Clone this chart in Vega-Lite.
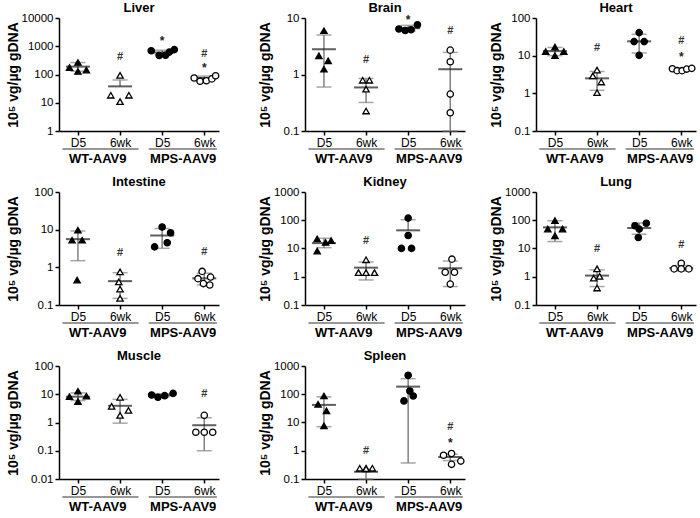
{
"$schema": "https://vega.github.io/schema/vega-lite/v6.json",
"background": "white",
"padding": {"left": 6, "top": 2, "right": 2, "bottom": 0},
"config": {
  "font": "Liberation Sans",
  "view": {"stroke": null},
  "axis": {"grid": false, "domainColor": "black", "domainWidth": 1.5, "tickColor": "black", "tickWidth": 1.5, "tickSize": 4, "labelColor": "black", "titleColor": "black", "titleFontSize": 14, "titleFontWeight": "bold", "labelFlush": false},
  "axisY": {"labelFontSize": 11.5, "labelPadding": 2, "titlePadding": 1},
  "axisX": {"labelFontSize": 12, "labelPadding": 2, "tickSize": 4},
  "title": {"fontSize": 13, "fontWeight": "bold", "offset": -3, "color": "black"}
},
"datasets": {
  "stats": [
    {"organ":"Liver","x":1,"v":190,"hi":265,"lo":130},
    {"organ":"Liver","x":2,"v":38,"hi":64,"lo":null},
    {"organ":"Liver","x":3,"v":600,"hi":720,"lo":500},
    {"organ":"Liver","x":4,"v":75,"hi":88,"lo":62},
    {"organ":"Brain","x":1,"v":2.8,"hi":5.0,"lo":0.6},
    {"organ":"Brain","x":2,"v":0.59,"hi":0.85,"lo":0.32},
    {"organ":"Brain","x":3,"v":6.6,"hi":7.4,"lo":5.9},
    {"organ":"Brain","x":4,"v":1.24,"hi":2.46,"lo":0.1},
    {"organ":"Heart","x":1,"v":13.2,"hi":16.5,"lo":10},
    {"organ":"Heart","x":2,"v":2.5,"hi":3.8,"lo":1.2},
    {"organ":"Heart","x":3,"v":24,"hi":37,"lo":11.8},
    {"organ":"Heart","x":4,"v":4.3,"hi":4.7,"lo":3.9},
    {"organ":"Intestine","x":1,"v":5.6,"hi":9.2,"lo":1.5},
    {"organ":"Intestine","x":2,"v":0.43,"hi":0.72,"lo":0.15},
    {"organ":"Intestine","x":3,"v":7.0,"hi":10.7,"lo":3.2},
    {"organ":"Intestine","x":4,"v":0.51,"hi":0.7,"lo":0.34},
    {"organ":"Kidney","x":1,"v":15.5,"hi":23,"lo":10.7},
    {"organ":"Kidney","x":2,"v":2.1,"hi":3.3,"lo":0.77},
    {"organ":"Kidney","x":3,"v":44,"hi":104,"lo":null},
    {"organ":"Kidney","x":4,"v":2.0,"hi":3.6,"lo":0.45},
    {"organ":"Lung","x":1,"v":56,"hi":96,"lo":17.6},
    {"organ":"Lung","x":2,"v":1.1,"hi":1.75,"lo":0.45},
    {"organ":"Lung","x":3,"v":53,"hi":80,"lo":32},
    {"organ":"Lung","x":4,"v":2.0,"hi":2.5,"lo":1.6},
    {"organ":"Muscle","x":1,"v":8.2,"hi":11.2,"lo":6.0},
    {"organ":"Muscle","x":2,"v":3.9,"hi":6.6,"lo":0.95},
    {"organ":"Muscle","x":3,"v":9.2,"hi":10.5,"lo":8.0},
    {"organ":"Muscle","x":4,"v":0.8,"hi":1.48,"lo":0.1},
    {"organ":"Spleen","x":1,"v":42,"hi":81,"lo":7.1},
    {"organ":"Spleen","x":2,"v":0.18,"hi":0.22,"lo":0.1},
    {"organ":"Spleen","x":3,"v":186,"hi":355,"lo":0.37},
    {"organ":"Spleen","x":4,"v":0.6,"hi":0.75,"lo":0.45}
  ],
  "pts": [
    {"organ":"Liver","c":"WT","t":"D5","x":0.8,"v":177},
    {"organ":"Liver","c":"WT","t":"D5","x":1.0,"v":267},
    {"organ":"Liver","c":"WT","t":"D5","x":1.2,"v":143},
    {"organ":"Liver","c":"WT","t":"D5","x":1.0,"v":128},
    {"organ":"Liver","c":"WT","t":"6wk","x":2.0,"v":93},
    {"organ":"Liver","c":"WT","t":"6wk","x":1.78,"v":18.4},
    {"organ":"Liver","c":"WT","t":"6wk","x":2.21,"v":18.4},
    {"organ":"Liver","c":"WT","t":"6wk","x":2.0,"v":11},
    {"organ":"Liver","c":"MPS","t":"D5","x":2.74,"v":690},
    {"organ":"Liver","c":"MPS","t":"D5","x":2.93,"v":470},
    {"organ":"Liver","c":"MPS","t":"D5","x":3.08,"v":480},
    {"organ":"Liver","c":"MPS","t":"D5","x":3.17,"v":620},
    {"organ":"Liver","c":"MPS","t":"D5","x":3.29,"v":760},
    {"organ":"Liver","c":"MPS","t":"6wk","x":3.76,"v":75},
    {"organ":"Liver","c":"MPS","t":"6wk","x":3.9,"v":58},
    {"organ":"Liver","c":"MPS","t":"6wk","x":4.05,"v":60},
    {"organ":"Liver","c":"MPS","t":"6wk","x":4.18,"v":70},
    {"organ":"Liver","c":"MPS","t":"6wk","x":4.27,"v":90},
    {"organ":"Brain","c":"WT","t":"D5","x":1.0,"v":5.96},
    {"organ":"Brain","c":"WT","t":"D5","x":0.88,"v":2.14},
    {"organ":"Brain","c":"WT","t":"D5","x":1.1,"v":1.75},
    {"organ":"Brain","c":"WT","t":"D5","x":1.0,"v":1.24},
    {"organ":"Brain","c":"WT","t":"6wk","x":1.92,"v":0.79},
    {"organ":"Brain","c":"WT","t":"6wk","x":2.08,"v":0.79},
    {"organ":"Brain","c":"WT","t":"6wk","x":2.0,"v":0.55},
    {"organ":"Brain","c":"WT","t":"6wk","x":2.0,"v":0.226},
    {"organ":"Brain","c":"MPS","t":"D5","x":2.78,"v":6.4},
    {"organ":"Brain","c":"MPS","t":"D5","x":2.93,"v":6.0},
    {"organ":"Brain","c":"MPS","t":"D5","x":3.07,"v":6.2},
    {"organ":"Brain","c":"MPS","t":"D5","x":3.22,"v":7.6},
    {"organ":"Brain","c":"MPS","t":"6wk","x":4.0,"v":2.7},
    {"organ":"Brain","c":"MPS","t":"6wk","x":4.0,"v":1.68},
    {"organ":"Brain","c":"MPS","t":"6wk","x":4.0,"v":0.45},
    {"organ":"Brain","c":"MPS","t":"6wk","x":4.0,"v":0.21},
    {"organ":"Heart","c":"WT","t":"D5","x":0.78,"v":12.9},
    {"organ":"Heart","c":"WT","t":"D5","x":1.0,"v":16.9},
    {"organ":"Heart","c":"WT","t":"D5","x":1.21,"v":12.9},
    {"organ":"Heart","c":"WT","t":"D5","x":1.0,"v":10},
    {"organ":"Heart","c":"WT","t":"6wk","x":2.0,"v":4.15},
    {"organ":"Heart","c":"WT","t":"6wk","x":1.9,"v":2.9},
    {"organ":"Heart","c":"WT","t":"6wk","x":2.1,"v":2.0},
    {"organ":"Heart","c":"WT","t":"6wk","x":2.0,"v":1.04},
    {"organ":"Heart","c":"MPS","t":"D5","x":3.0,"v":41},
    {"organ":"Heart","c":"MPS","t":"D5","x":2.88,"v":23.6},
    {"organ":"Heart","c":"MPS","t":"D5","x":3.12,"v":23.6},
    {"organ":"Heart","c":"MPS","t":"D5","x":3.0,"v":10.2},
    {"organ":"Heart","c":"MPS","t":"6wk","x":3.79,"v":4.5},
    {"organ":"Heart","c":"MPS","t":"6wk","x":3.9,"v":4.0},
    {"organ":"Heart","c":"MPS","t":"6wk","x":4.02,"v":4.0},
    {"organ":"Heart","c":"MPS","t":"6wk","x":4.13,"v":4.4},
    {"organ":"Heart","c":"MPS","t":"6wk","x":4.25,"v":4.6},
    {"organ":"Intestine","c":"WT","t":"D5","x":1.0,"v":9.7},
    {"organ":"Intestine","c":"WT","t":"D5","x":0.86,"v":5.25},
    {"organ":"Intestine","c":"WT","t":"D5","x":1.1,"v":5.25},
    {"organ":"Intestine","c":"WT","t":"D5","x":0.98,"v":0.46},
    {"organ":"Intestine","c":"WT","t":"6wk","x":2.0,"v":0.76},
    {"organ":"Intestine","c":"WT","t":"6wk","x":1.97,"v":0.41},
    {"organ":"Intestine","c":"WT","t":"6wk","x":2.0,"v":0.265},
    {"organ":"Intestine","c":"WT","t":"6wk","x":2.0,"v":0.15},
    {"organ":"Intestine","c":"MPS","t":"D5","x":3.0,"v":11.8},
    {"organ":"Intestine","c":"MPS","t":"D5","x":3.2,"v":8.3},
    {"organ":"Intestine","c":"MPS","t":"D5","x":3.12,"v":4.5},
    {"organ":"Intestine","c":"MPS","t":"D5","x":2.82,"v":3.5},
    {"organ":"Intestine","c":"MPS","t":"6wk","x":3.95,"v":0.78},
    {"organ":"Intestine","c":"MPS","t":"6wk","x":4.15,"v":0.55},
    {"organ":"Intestine","c":"MPS","t":"6wk","x":3.85,"v":0.5},
    {"organ":"Intestine","c":"MPS","t":"6wk","x":3.98,"v":0.37},
    {"organ":"Intestine","c":"MPS","t":"6wk","x":4.13,"v":0.34},
    {"organ":"Kidney","c":"WT","t":"D5","x":0.84,"v":21.8},
    {"organ":"Kidney","c":"WT","t":"D5","x":1.04,"v":16.4},
    {"organ":"Kidney","c":"WT","t":"D5","x":1.17,"v":19},
    {"organ":"Kidney","c":"WT","t":"D5","x":0.84,"v":8.1},
    {"organ":"Kidney","c":"WT","t":"6wk","x":2.0,"v":4.0},
    {"organ":"Kidney","c":"WT","t":"6wk","x":1.82,"v":1.4},
    {"organ":"Kidney","c":"WT","t":"6wk","x":2.0,"v":1.4},
    {"organ":"Kidney","c":"WT","t":"6wk","x":2.2,"v":1.4},
    {"organ":"Kidney","c":"MPS","t":"D5","x":3.0,"v":119},
    {"organ":"Kidney","c":"MPS","t":"D5","x":3.0,"v":29},
    {"organ":"Kidney","c":"MPS","t":"D5","x":2.84,"v":10.1},
    {"organ":"Kidney","c":"MPS","t":"D5","x":3.08,"v":10.1},
    {"organ":"Kidney","c":"MPS","t":"6wk","x":4.04,"v":4.2},
    {"organ":"Kidney","c":"MPS","t":"6wk","x":3.88,"v":1.45},
    {"organ":"Kidney","c":"MPS","t":"6wk","x":4.1,"v":1.45},
    {"organ":"Kidney","c":"MPS","t":"6wk","x":4.0,"v":0.55},
    {"organ":"Lung","c":"WT","t":"D5","x":1.0,"v":96.7},
    {"organ":"Lung","c":"WT","t":"D5","x":0.83,"v":48.6},
    {"organ":"Lung","c":"WT","t":"D5","x":1.18,"v":48.6},
    {"organ":"Lung","c":"WT","t":"D5","x":1.0,"v":28},
    {"organ":"Lung","c":"WT","t":"6wk","x":2.0,"v":1.9},
    {"organ":"Lung","c":"WT","t":"6wk","x":2.06,"v":1.03},
    {"organ":"Lung","c":"WT","t":"6wk","x":1.92,"v":0.9},
    {"organ":"Lung","c":"WT","t":"6wk","x":2.0,"v":0.4},
    {"organ":"Lung","c":"MPS","t":"D5","x":2.9,"v":64},
    {"organ":"Lung","c":"MPS","t":"D5","x":3.17,"v":78},
    {"organ":"Lung","c":"MPS","t":"D5","x":3.0,"v":48.6},
    {"organ":"Lung","c":"MPS","t":"D5","x":2.98,"v":24.4},
    {"organ":"Lung","c":"MPS","t":"6wk","x":4.0,"v":3.0},
    {"organ":"Lung","c":"MPS","t":"6wk","x":3.83,"v":1.9},
    {"organ":"Lung","c":"MPS","t":"6wk","x":4.0,"v":1.9},
    {"organ":"Lung","c":"MPS","t":"6wk","x":4.18,"v":1.9},
    {"organ":"Muscle","c":"WT","t":"D5","x":1.0,"v":12.8},
    {"organ":"Muscle","c":"WT","t":"D5","x":0.8,"v":8.2},
    {"organ":"Muscle","c":"WT","t":"D5","x":1.2,"v":8.6},
    {"organ":"Muscle","c":"WT","t":"D5","x":1.0,"v":5.5},
    {"organ":"Muscle","c":"WT","t":"6wk","x":2.0,"v":7.8},
    {"organ":"Muscle","c":"WT","t":"6wk","x":1.8,"v":3.73},
    {"organ":"Muscle","c":"WT","t":"6wk","x":2.2,"v":2.7},
    {"organ":"Muscle","c":"WT","t":"6wk","x":2.0,"v":1.79},
    {"organ":"Muscle","c":"MPS","t":"D5","x":2.75,"v":9.4},
    {"organ":"Muscle","c":"MPS","t":"D5","x":2.9,"v":7.8},
    {"organ":"Muscle","c":"MPS","t":"D5","x":3.06,"v":8.9},
    {"organ":"Muscle","c":"MPS","t":"D5","x":3.26,"v":10.7},
    {"organ":"Muscle","c":"MPS","t":"6wk","x":4.0,"v":1.79},
    {"organ":"Muscle","c":"MPS","t":"6wk","x":3.8,"v":0.45},
    {"organ":"Muscle","c":"MPS","t":"6wk","x":4.0,"v":0.45},
    {"organ":"Muscle","c":"MPS","t":"6wk","x":4.2,"v":0.45},
    {"organ":"Spleen","c":"WT","t":"D5","x":1.0,"v":87},
    {"organ":"Spleen","c":"WT","t":"D5","x":0.86,"v":44},
    {"organ":"Spleen","c":"WT","t":"D5","x":1.06,"v":26},
    {"organ":"Spleen","c":"WT","t":"D5","x":1.0,"v":7.6},
    {"organ":"Spleen","c":"WT","t":"6wk","x":1.85,"v":0.24},
    {"organ":"Spleen","c":"WT","t":"6wk","x":2.0,"v":0.24},
    {"organ":"Spleen","c":"WT","t":"6wk","x":2.15,"v":0.24},
    {"organ":"Spleen","c":"WT","t":"6wk","x":2.0,"v":0.23},
    {"organ":"Spleen","c":"MPS","t":"D5","x":3.0,"v":468},
    {"organ":"Spleen","c":"MPS","t":"D5","x":3.04,"v":130},
    {"organ":"Spleen","c":"MPS","t":"D5","x":3.12,"v":87},
    {"organ":"Spleen","c":"MPS","t":"D5","x":2.9,"v":58},
    {"organ":"Spleen","c":"MPS","t":"6wk","x":3.84,"v":0.69},
    {"organ":"Spleen","c":"MPS","t":"6wk","x":4.03,"v":0.8},
    {"organ":"Spleen","c":"MPS","t":"6wk","x":4.03,"v":0.33},
    {"organ":"Spleen","c":"MPS","t":"6wk","x":4.25,"v":0.43}
  ],
  "ann": [
    {"organ":"Liver","x":2,"v":417,"label":"#"},
    {"organ":"Liver","x":3,"v":1950,"label":"*"},
    {"organ":"Liver","x":4,"v":516,"label":"#"},
    {"organ":"Liver","x":4,"v":218,"label":"*"},
    {"organ":"Brain","x":2,"v":1.8,"label":"#"},
    {"organ":"Brain","x":3,"v":10.5,"label":"*"},
    {"organ":"Brain","x":4,"v":5.8,"label":"#"},
    {"organ":"Heart","x":2,"v":15.5,"label":"#"},
    {"organ":"Heart","x":4,"v":25,"label":"#"},
    {"organ":"Heart","x":4,"v":11,"label":"*"},
    {"organ":"Intestine","x":2,"v":2.33,"label":"#"},
    {"organ":"Intestine","x":4,"v":2.58,"label":"#"},
    {"organ":"Kidney","x":2,"v":17.9,"label":"#"},
    {"organ":"Lung","x":2,"v":9.3,"label":"#"},
    {"organ":"Lung","x":4,"v":13.3,"label":"#"},
    {"organ":"Muscle","x":4,"v":10.1,"label":"#"},
    {"organ":"Spleen","x":2,"v":1.0,"label":"#"},
    {"organ":"Spleen","x":4,"v":6.9,"label":"#"},
    {"organ":"Spleen","x":4,"v":2.5,"label":"*"}
  ],
  "grp": [
    {"organ":"Liver","name":"WT-AAV9","gx":0.63,"gx2":2.44,"gc":1.47,"v":1},
    {"organ":"Liver","name":"MPS-AAV9","gx":2.68,"gx2":4.3,"gc":3.5,"v":1},
    {"organ":"Brain","name":"WT-AAV9","gx":0.63,"gx2":2.44,"gc":1.47,"v":0.1},
    {"organ":"Brain","name":"MPS-AAV9","gx":2.68,"gx2":4.3,"gc":3.5,"v":0.1},
    {"organ":"Heart","name":"WT-AAV9","gx":0.63,"gx2":2.44,"gc":1.47,"v":0.1},
    {"organ":"Heart","name":"MPS-AAV9","gx":2.68,"gx2":4.3,"gc":3.5,"v":0.1},
    {"organ":"Intestine","name":"WT-AAV9","gx":0.63,"gx2":2.44,"gc":1.47,"v":0.1},
    {"organ":"Intestine","name":"MPS-AAV9","gx":2.68,"gx2":4.3,"gc":3.5,"v":0.1},
    {"organ":"Kidney","name":"WT-AAV9","gx":0.63,"gx2":2.44,"gc":1.47,"v":0.1},
    {"organ":"Kidney","name":"MPS-AAV9","gx":2.68,"gx2":4.3,"gc":3.5,"v":0.1},
    {"organ":"Lung","name":"WT-AAV9","gx":0.63,"gx2":2.44,"gc":1.47,"v":0.1},
    {"organ":"Lung","name":"MPS-AAV9","gx":2.68,"gx2":4.3,"gc":3.5,"v":0.1},
    {"organ":"Muscle","name":"WT-AAV9","gx":0.63,"gx2":2.44,"gc":1.47,"v":0.01},
    {"organ":"Muscle","name":"MPS-AAV9","gx":2.68,"gx2":4.3,"gc":3.5,"v":0.01},
    {"organ":"Spleen","name":"WT-AAV9","gx":0.63,"gx2":2.44,"gc":1.47,"v":0.1},
    {"organ":"Spleen","name":"MPS-AAV9","gx":2.68,"gx2":4.3,"gc":3.5,"v":0.1}
  ]
},
"spacing": 36,
"hconcat": [
 {"vconcat": [
  {"title":"Liver","width":160,"height":113,
   "encoding":{"x":{"field":"x","type":"quantitative","scale":{"domain":[0.55,4.35],"nice":false,"zero":false},"axis":{"values":[1,2,3,4],"labelExpr":"datum.value == 1 || datum.value == 3 ? 'D5' : '6wk'","title":null}},
     "y":{"field":"v","type":"quantitative","scale":{"type":"log","domain":[1,10000],"nice":false},"axis":{"values":[1,10,100,1000,10000],"format":"~g","title":"10⁵ vg/µg gDNA","minExtent":38}}},
   "layer":[
    {"data":{"name":"stats"},"transform":[{"filter":"datum.organ == 'Liver'"}],"mark":{"type":"rule","color":"#808080","strokeWidth":1.5},"encoding":{"y2":{"field":"hi"}}},
    {"data":{"name":"stats"},"transform":[{"filter":"datum.organ == 'Liver' && datum.lo != null"}],"mark":{"type":"rule","color":"#808080","strokeWidth":1.5},"encoding":{"y2":{"field":"lo"}}},
    {"data":{"name":"stats"},"transform":[{"filter":"datum.organ == 'Liver'"}],"mark":{"type":"tick","orient":"horizontal","size":15,"thickness":1.5,"color":"#808080"},"encoding":{"y":{"field":"hi","type":"quantitative"}}},
    {"data":{"name":"stats"},"transform":[{"filter":"datum.organ == 'Liver' && datum.lo != null"}],"mark":{"type":"tick","orient":"horizontal","size":15,"thickness":1.5,"color":"#808080"},"encoding":{"y":{"field":"lo","type":"quantitative"}}},
    {"data":{"name":"stats"},"transform":[{"filter":"datum.organ == 'Liver'"}],"mark":{"type":"tick","orient":"horizontal","size":24,"thickness":2,"color":"#1a1a1a"}},
    {"data":{"name":"pts"},"transform":[{"filter":"datum.organ == 'Liver'"}],"mark":{"type":"point","filled":true,"size":40,"stroke":"black","strokeWidth":1.3,"opacity":1},"encoding":{"shape":{"field":"c","type":"nominal","scale":{"domain":["WT","MPS"],"range":["triangle-up","circle"]},"legend":null},"fill":{"field":"t","type":"nominal","scale":{"domain":["D5","6wk"],"range":["black","white"]},"legend":null}}},
    {"data":{"name":"ann"},"transform":[{"filter":"datum.organ == 'Liver' && datum.label == '#'"}],"mark":{"type":"text","fontSize":11,"fontWeight":"bold","color":"#333333","baseline":"middle"},"encoding":{"text":{"field":"label"}}},
    {"data":{"name":"ann"},"transform":[{"filter":"datum.organ == 'Liver' && datum.label == '*'"}],"mark":{"type":"text","fontSize":12,"fontWeight":"bold","color":"#222222","baseline":"middle","dy":3},"encoding":{"text":{"field":"label"}}},
    {"data":{"name":"grp"},"transform":[{"filter":"datum.organ == 'Liver'"}],"mark":{"type":"rule","color":"#333333","strokeWidth":1.2,"yOffset":18},"encoding":{"x":{"field":"gx"},"x2":{"field":"gx2"}}},
    {"data":{"name":"grp"},"transform":[{"filter":"datum.organ == 'Liver'"}],"mark":{"type":"text","fontSize":13,"fontWeight":"bold","dy":28,"baseline":"middle","color":"black"},"encoding":{"x":{"field":"gc"},"text":{"field":"name"}}}
   ]},
  {"title":"Intestine","width":160,"height":113,
   "encoding":{"x":{"field":"x","type":"quantitative","scale":{"domain":[0.55,4.35],"nice":false,"zero":false},"axis":{"values":[1,2,3,4],"labelExpr":"datum.value == 1 || datum.value == 3 ? 'D5' : '6wk'","title":null}},
     "y":{"field":"v","type":"quantitative","scale":{"type":"log","domain":[0.1,100],"nice":false},"axis":{"values":[0.1,1,10,100],"format":"~g","title":"10⁵ vg/µg gDNA","minExtent":38}}},
   "layer":[
    {"data":{"name":"stats"},"transform":[{"filter":"datum.organ == 'Intestine'"}],"mark":{"type":"rule","color":"#808080","strokeWidth":1.5},"encoding":{"y2":{"field":"hi"}}},
    {"data":{"name":"stats"},"transform":[{"filter":"datum.organ == 'Intestine' && datum.lo != null"}],"mark":{"type":"rule","color":"#808080","strokeWidth":1.5},"encoding":{"y2":{"field":"lo"}}},
    {"data":{"name":"stats"},"transform":[{"filter":"datum.organ == 'Intestine'"}],"mark":{"type":"tick","orient":"horizontal","size":15,"thickness":1.5,"color":"#808080"},"encoding":{"y":{"field":"hi","type":"quantitative"}}},
    {"data":{"name":"stats"},"transform":[{"filter":"datum.organ == 'Intestine' && datum.lo != null"}],"mark":{"type":"tick","orient":"horizontal","size":15,"thickness":1.5,"color":"#808080"},"encoding":{"y":{"field":"lo","type":"quantitative"}}},
    {"data":{"name":"stats"},"transform":[{"filter":"datum.organ == 'Intestine'"}],"mark":{"type":"tick","orient":"horizontal","size":24,"thickness":2,"color":"#1a1a1a"}},
    {"data":{"name":"pts"},"transform":[{"filter":"datum.organ == 'Intestine'"}],"mark":{"type":"point","filled":true,"size":40,"stroke":"black","strokeWidth":1.3,"opacity":1},"encoding":{"shape":{"field":"c","type":"nominal","scale":{"domain":["WT","MPS"],"range":["triangle-up","circle"]},"legend":null},"fill":{"field":"t","type":"nominal","scale":{"domain":["D5","6wk"],"range":["black","white"]},"legend":null}}},
    {"data":{"name":"ann"},"transform":[{"filter":"datum.organ == 'Intestine' && datum.label == '#'"}],"mark":{"type":"text","fontSize":11,"fontWeight":"bold","color":"#333333","baseline":"middle"},"encoding":{"text":{"field":"label"}}},
    {"data":{"name":"grp"},"transform":[{"filter":"datum.organ == 'Intestine'"}],"mark":{"type":"rule","color":"#333333","strokeWidth":1.2,"yOffset":18},"encoding":{"x":{"field":"gx"},"x2":{"field":"gx2"}}},
    {"data":{"name":"grp"},"transform":[{"filter":"datum.organ == 'Intestine'"}],"mark":{"type":"text","fontSize":13,"fontWeight":"bold","dy":28,"baseline":"middle","color":"black"},"encoding":{"x":{"field":"gc"},"text":{"field":"name"}}}
   ]},
  {"title":"Muscle","width":160,"height":113,
   "encoding":{"x":{"field":"x","type":"quantitative","scale":{"domain":[0.55,4.35],"nice":false,"zero":false},"axis":{"values":[1,2,3,4],"labelExpr":"datum.value == 1 || datum.value == 3 ? 'D5' : '6wk'","title":null}},
     "y":{"field":"v","type":"quantitative","scale":{"type":"log","domain":[0.01,100],"nice":false},"axis":{"values":[0.01,0.1,1,10,100],"format":"~g","title":"10⁵ vg/µg gDNA","minExtent":38}}},
   "layer":[
    {"data":{"name":"stats"},"transform":[{"filter":"datum.organ == 'Muscle'"}],"mark":{"type":"rule","color":"#808080","strokeWidth":1.5},"encoding":{"y2":{"field":"hi"}}},
    {"data":{"name":"stats"},"transform":[{"filter":"datum.organ == 'Muscle' && datum.lo != null"}],"mark":{"type":"rule","color":"#808080","strokeWidth":1.5},"encoding":{"y2":{"field":"lo"}}},
    {"data":{"name":"stats"},"transform":[{"filter":"datum.organ == 'Muscle'"}],"mark":{"type":"tick","orient":"horizontal","size":15,"thickness":1.5,"color":"#808080"},"encoding":{"y":{"field":"hi","type":"quantitative"}}},
    {"data":{"name":"stats"},"transform":[{"filter":"datum.organ == 'Muscle' && datum.lo != null"}],"mark":{"type":"tick","orient":"horizontal","size":15,"thickness":1.5,"color":"#808080"},"encoding":{"y":{"field":"lo","type":"quantitative"}}},
    {"data":{"name":"stats"},"transform":[{"filter":"datum.organ == 'Muscle'"}],"mark":{"type":"tick","orient":"horizontal","size":24,"thickness":2,"color":"#1a1a1a"}},
    {"data":{"name":"pts"},"transform":[{"filter":"datum.organ == 'Muscle'"}],"mark":{"type":"point","filled":true,"size":40,"stroke":"black","strokeWidth":1.3,"opacity":1},"encoding":{"shape":{"field":"c","type":"nominal","scale":{"domain":["WT","MPS"],"range":["triangle-up","circle"]},"legend":null},"fill":{"field":"t","type":"nominal","scale":{"domain":["D5","6wk"],"range":["black","white"]},"legend":null}}},
    {"data":{"name":"ann"},"transform":[{"filter":"datum.organ == 'Muscle' && datum.label == '#'"}],"mark":{"type":"text","fontSize":11,"fontWeight":"bold","color":"#333333","baseline":"middle"},"encoding":{"text":{"field":"label"}}},
    {"data":{"name":"grp"},"transform":[{"filter":"datum.organ == 'Muscle'"}],"mark":{"type":"rule","color":"#333333","strokeWidth":1.2,"yOffset":18},"encoding":{"x":{"field":"gx"},"x2":{"field":"gx2"}}},
    {"data":{"name":"grp"},"transform":[{"filter":"datum.organ == 'Muscle'"}],"mark":{"type":"text","fontSize":13,"fontWeight":"bold","dy":28,"baseline":"middle","color":"black"},"encoding":{"x":{"field":"gc"},"text":{"field":"name"}}}
   ]}
 ], "spacing": 10},
 {"hconcat": [
  {"vconcat": [
   {"title":"Brain","width":160,"height":113,
    "encoding":{"x":{"field":"x","type":"quantitative","scale":{"domain":[0.55,4.35],"nice":false,"zero":false},"axis":{"values":[1,2,3,4],"labelExpr":"datum.value == 1 || datum.value == 3 ? 'D5' : '6wk'","title":null}},
      "y":{"field":"v","type":"quantitative","scale":{"type":"log","domain":[0.1,10],"nice":false},"axis":{"values":[0.1,1,10],"format":"~g","title":"10⁵ vg/µg gDNA","minExtent":32}}},
    "layer":[
     {"data":{"name":"stats"},"transform":[{"filter":"datum.organ == 'Brain'"}],"mark":{"type":"rule","color":"#808080","strokeWidth":1.5},"encoding":{"y2":{"field":"hi"}}},
     {"data":{"name":"stats"},"transform":[{"filter":"datum.organ == 'Brain' && datum.lo != null"}],"mark":{"type":"rule","color":"#808080","strokeWidth":1.5},"encoding":{"y2":{"field":"lo"}}},
     {"data":{"name":"stats"},"transform":[{"filter":"datum.organ == 'Brain'"}],"mark":{"type":"tick","orient":"horizontal","size":15,"thickness":1.5,"color":"#808080"},"encoding":{"y":{"field":"hi","type":"quantitative"}}},
     {"data":{"name":"stats"},"transform":[{"filter":"datum.organ == 'Brain' && datum.lo != null"}],"mark":{"type":"tick","orient":"horizontal","size":15,"thickness":1.5,"color":"#808080"},"encoding":{"y":{"field":"lo","type":"quantitative"}}},
     {"data":{"name":"stats"},"transform":[{"filter":"datum.organ == 'Brain'"}],"mark":{"type":"tick","orient":"horizontal","size":24,"thickness":2,"color":"#1a1a1a"}},
     {"data":{"name":"pts"},"transform":[{"filter":"datum.organ == 'Brain'"}],"mark":{"type":"point","filled":true,"size":40,"stroke":"black","strokeWidth":1.3,"opacity":1},"encoding":{"shape":{"field":"c","type":"nominal","scale":{"domain":["WT","MPS"],"range":["triangle-up","circle"]},"legend":null},"fill":{"field":"t","type":"nominal","scale":{"domain":["D5","6wk"],"range":["black","white"]},"legend":null}}},
     {"data":{"name":"ann"},"transform":[{"filter":"datum.organ == 'Brain' && datum.label == '#'"}],"mark":{"type":"text","fontSize":11,"fontWeight":"bold","color":"#333333","baseline":"middle"},"encoding":{"text":{"field":"label"}}},
     {"data":{"name":"ann"},"transform":[{"filter":"datum.organ == 'Brain' && datum.label == '*'"}],"mark":{"type":"text","fontSize":12,"fontWeight":"bold","color":"#222222","baseline":"middle","dy":3},"encoding":{"text":{"field":"label"}}},
     {"data":{"name":"grp"},"transform":[{"filter":"datum.organ == 'Brain'"}],"mark":{"type":"rule","color":"#333333","strokeWidth":1.2,"yOffset":18},"encoding":{"x":{"field":"gx"},"x2":{"field":"gx2"}}},
     {"data":{"name":"grp"},"transform":[{"filter":"datum.organ == 'Brain'"}],"mark":{"type":"text","fontSize":13,"fontWeight":"bold","dy":28,"baseline":"middle","color":"black"},"encoding":{"x":{"field":"gc"},"text":{"field":"name"}}}
    ]},
   {"title":"Kidney","width":160,"height":113,
    "encoding":{"x":{"field":"x","type":"quantitative","scale":{"domain":[0.55,4.35],"nice":false,"zero":false},"axis":{"values":[1,2,3,4],"labelExpr":"datum.value == 1 || datum.value == 3 ? 'D5' : '6wk'","title":null}},
      "y":{"field":"v","type":"quantitative","scale":{"type":"log","domain":[0.1,1000],"nice":false},"axis":{"values":[0.1,1,10,100,1000],"format":"~g","title":"10⁵ vg/µg gDNA","minExtent":32}}},
    "layer":[
     {"data":{"name":"stats"},"transform":[{"filter":"datum.organ == 'Kidney'"}],"mark":{"type":"rule","color":"#808080","strokeWidth":1.5},"encoding":{"y2":{"field":"hi"}}},
     {"data":{"name":"stats"},"transform":[{"filter":"datum.organ == 'Kidney' && datum.lo != null"}],"mark":{"type":"rule","color":"#808080","strokeWidth":1.5},"encoding":{"y2":{"field":"lo"}}},
     {"data":{"name":"stats"},"transform":[{"filter":"datum.organ == 'Kidney'"}],"mark":{"type":"tick","orient":"horizontal","size":15,"thickness":1.5,"color":"#808080"},"encoding":{"y":{"field":"hi","type":"quantitative"}}},
     {"data":{"name":"stats"},"transform":[{"filter":"datum.organ == 'Kidney' && datum.lo != null"}],"mark":{"type":"tick","orient":"horizontal","size":15,"thickness":1.5,"color":"#808080"},"encoding":{"y":{"field":"lo","type":"quantitative"}}},
     {"data":{"name":"stats"},"transform":[{"filter":"datum.organ == 'Kidney'"}],"mark":{"type":"tick","orient":"horizontal","size":24,"thickness":2,"color":"#1a1a1a"}},
     {"data":{"name":"pts"},"transform":[{"filter":"datum.organ == 'Kidney'"}],"mark":{"type":"point","filled":true,"size":40,"stroke":"black","strokeWidth":1.3,"opacity":1},"encoding":{"shape":{"field":"c","type":"nominal","scale":{"domain":["WT","MPS"],"range":["triangle-up","circle"]},"legend":null},"fill":{"field":"t","type":"nominal","scale":{"domain":["D5","6wk"],"range":["black","white"]},"legend":null}}},
     {"data":{"name":"ann"},"transform":[{"filter":"datum.organ == 'Kidney' && datum.label == '#'"}],"mark":{"type":"text","fontSize":11,"fontWeight":"bold","color":"#333333","baseline":"middle"},"encoding":{"text":{"field":"label"}}},
     {"data":{"name":"grp"},"transform":[{"filter":"datum.organ == 'Kidney'"}],"mark":{"type":"rule","color":"#333333","strokeWidth":1.2,"yOffset":18},"encoding":{"x":{"field":"gx"},"x2":{"field":"gx2"}}},
     {"data":{"name":"grp"},"transform":[{"filter":"datum.organ == 'Kidney'"}],"mark":{"type":"text","fontSize":13,"fontWeight":"bold","dy":28,"baseline":"middle","color":"black"},"encoding":{"x":{"field":"gc"},"text":{"field":"name"}}}
    ]},
   {"title":"Spleen","width":160,"height":113,
    "encoding":{"x":{"field":"x","type":"quantitative","scale":{"domain":[0.55,4.35],"nice":false,"zero":false},"axis":{"values":[1,2,3,4],"labelExpr":"datum.value == 1 || datum.value == 3 ? 'D5' : '6wk'","title":null}},
      "y":{"field":"v","type":"quantitative","scale":{"type":"log","domain":[0.1,1000],"nice":false},"axis":{"values":[0.1,1,10,100,1000],"format":"~g","title":"10⁵ vg/µg gDNA","minExtent":32}}},
    "layer":[
     {"data":{"name":"stats"},"transform":[{"filter":"datum.organ == 'Spleen'"}],"mark":{"type":"rule","color":"#808080","strokeWidth":1.5},"encoding":{"y2":{"field":"hi"}}},
     {"data":{"name":"stats"},"transform":[{"filter":"datum.organ == 'Spleen' && datum.lo != null"}],"mark":{"type":"rule","color":"#808080","strokeWidth":1.5},"encoding":{"y2":{"field":"lo"}}},
     {"data":{"name":"stats"},"transform":[{"filter":"datum.organ == 'Spleen'"}],"mark":{"type":"tick","orient":"horizontal","size":15,"thickness":1.5,"color":"#808080"},"encoding":{"y":{"field":"hi","type":"quantitative"}}},
     {"data":{"name":"stats"},"transform":[{"filter":"datum.organ == 'Spleen' && datum.lo != null"}],"mark":{"type":"tick","orient":"horizontal","size":15,"thickness":1.5,"color":"#808080"},"encoding":{"y":{"field":"lo","type":"quantitative"}}},
     {"data":{"name":"stats"},"transform":[{"filter":"datum.organ == 'Spleen'"}],"mark":{"type":"tick","orient":"horizontal","size":24,"thickness":2,"color":"#1a1a1a"}},
     {"data":{"name":"pts"},"transform":[{"filter":"datum.organ == 'Spleen'"}],"mark":{"type":"point","filled":true,"size":40,"stroke":"black","strokeWidth":1.3,"opacity":1},"encoding":{"shape":{"field":"c","type":"nominal","scale":{"domain":["WT","MPS"],"range":["triangle-up","circle"]},"legend":null},"fill":{"field":"t","type":"nominal","scale":{"domain":["D5","6wk"],"range":["black","white"]},"legend":null}}},
     {"data":{"name":"ann"},"transform":[{"filter":"datum.organ == 'Spleen' && datum.label == '#'"}],"mark":{"type":"text","fontSize":11,"fontWeight":"bold","color":"#333333","baseline":"middle"},"encoding":{"text":{"field":"label"}}},
     {"data":{"name":"ann"},"transform":[{"filter":"datum.organ == 'Spleen' && datum.label == '*'"}],"mark":{"type":"text","fontSize":12,"fontWeight":"bold","color":"#222222","baseline":"middle","dy":3},"encoding":{"text":{"field":"label"}}},
     {"data":{"name":"grp"},"transform":[{"filter":"datum.organ == 'Spleen'"}],"mark":{"type":"rule","color":"#333333","strokeWidth":1.2,"yOffset":18},"encoding":{"x":{"field":"gx"},"x2":{"field":"gx2"}}},
     {"data":{"name":"grp"},"transform":[{"filter":"datum.organ == 'Spleen'"}],"mark":{"type":"text","fontSize":13,"fontWeight":"bold","dy":28,"baseline":"middle","color":"black"},"encoding":{"x":{"field":"gc"},"text":{"field":"name"}}}
    ]}
  ], "spacing": 10},
  {"vconcat": [
   {"title":"Heart","width":160,"height":113,
    "encoding":{"x":{"field":"x","type":"quantitative","scale":{"domain":[0.55,4.35],"nice":false,"zero":false},"axis":{"values":[1,2,3,4],"labelExpr":"datum.value == 1 || datum.value == 3 ? 'D5' : '6wk'","title":null}},
      "y":{"field":"v","type":"quantitative","scale":{"type":"log","domain":[0.1,100],"nice":false},"axis":{"values":[0.1,1,10,100],"format":"~g","title":"10⁵ vg/µg gDNA","minExtent":32}}},
    "layer":[
     {"data":{"name":"stats"},"transform":[{"filter":"datum.organ == 'Heart'"}],"mark":{"type":"rule","color":"#808080","strokeWidth":1.5},"encoding":{"y2":{"field":"hi"}}},
     {"data":{"name":"stats"},"transform":[{"filter":"datum.organ == 'Heart' && datum.lo != null"}],"mark":{"type":"rule","color":"#808080","strokeWidth":1.5},"encoding":{"y2":{"field":"lo"}}},
     {"data":{"name":"stats"},"transform":[{"filter":"datum.organ == 'Heart'"}],"mark":{"type":"tick","orient":"horizontal","size":15,"thickness":1.5,"color":"#808080"},"encoding":{"y":{"field":"hi","type":"quantitative"}}},
     {"data":{"name":"stats"},"transform":[{"filter":"datum.organ == 'Heart' && datum.lo != null"}],"mark":{"type":"tick","orient":"horizontal","size":15,"thickness":1.5,"color":"#808080"},"encoding":{"y":{"field":"lo","type":"quantitative"}}},
     {"data":{"name":"stats"},"transform":[{"filter":"datum.organ == 'Heart'"}],"mark":{"type":"tick","orient":"horizontal","size":24,"thickness":2,"color":"#1a1a1a"}},
     {"data":{"name":"pts"},"transform":[{"filter":"datum.organ == 'Heart'"}],"mark":{"type":"point","filled":true,"size":40,"stroke":"black","strokeWidth":1.3,"opacity":1},"encoding":{"shape":{"field":"c","type":"nominal","scale":{"domain":["WT","MPS"],"range":["triangle-up","circle"]},"legend":null},"fill":{"field":"t","type":"nominal","scale":{"domain":["D5","6wk"],"range":["black","white"]},"legend":null}}},
     {"data":{"name":"ann"},"transform":[{"filter":"datum.organ == 'Heart' && datum.label == '#'"}],"mark":{"type":"text","fontSize":11,"fontWeight":"bold","color":"#333333","baseline":"middle"},"encoding":{"text":{"field":"label"}}},
     {"data":{"name":"ann"},"transform":[{"filter":"datum.organ == 'Heart' && datum.label == '*'"}],"mark":{"type":"text","fontSize":12,"fontWeight":"bold","color":"#222222","baseline":"middle","dy":3},"encoding":{"text":{"field":"label"}}},
     {"data":{"name":"grp"},"transform":[{"filter":"datum.organ == 'Heart'"}],"mark":{"type":"rule","color":"#333333","strokeWidth":1.2,"yOffset":18},"encoding":{"x":{"field":"gx"},"x2":{"field":"gx2"}}},
     {"data":{"name":"grp"},"transform":[{"filter":"datum.organ == 'Heart'"}],"mark":{"type":"text","fontSize":13,"fontWeight":"bold","dy":28,"baseline":"middle","color":"black"},"encoding":{"x":{"field":"gc"},"text":{"field":"name"}}}
    ]},
   {"title":"Lung","width":160,"height":113,
    "encoding":{"x":{"field":"x","type":"quantitative","scale":{"domain":[0.55,4.35],"nice":false,"zero":false},"axis":{"values":[1,2,3,4],"labelExpr":"datum.value == 1 || datum.value == 3 ? 'D5' : '6wk'","title":null}},
      "y":{"field":"v","type":"quantitative","scale":{"type":"log","domain":[0.1,1000],"nice":false},"axis":{"values":[0.1,1,10,100,1000],"format":"~g","title":"10⁵ vg/µg gDNA","minExtent":32}}},
    "layer":[
     {"data":{"name":"stats"},"transform":[{"filter":"datum.organ == 'Lung'"}],"mark":{"type":"rule","color":"#808080","strokeWidth":1.5},"encoding":{"y2":{"field":"hi"}}},
     {"data":{"name":"stats"},"transform":[{"filter":"datum.organ == 'Lung' && datum.lo != null"}],"mark":{"type":"rule","color":"#808080","strokeWidth":1.5},"encoding":{"y2":{"field":"lo"}}},
     {"data":{"name":"stats"},"transform":[{"filter":"datum.organ == 'Lung'"}],"mark":{"type":"tick","orient":"horizontal","size":15,"thickness":1.5,"color":"#808080"},"encoding":{"y":{"field":"hi","type":"quantitative"}}},
     {"data":{"name":"stats"},"transform":[{"filter":"datum.organ == 'Lung' && datum.lo != null"}],"mark":{"type":"tick","orient":"horizontal","size":15,"thickness":1.5,"color":"#808080"},"encoding":{"y":{"field":"lo","type":"quantitative"}}},
     {"data":{"name":"stats"},"transform":[{"filter":"datum.organ == 'Lung'"}],"mark":{"type":"tick","orient":"horizontal","size":24,"thickness":2,"color":"#1a1a1a"}},
     {"data":{"name":"pts"},"transform":[{"filter":"datum.organ == 'Lung'"}],"mark":{"type":"point","filled":true,"size":40,"stroke":"black","strokeWidth":1.3,"opacity":1},"encoding":{"shape":{"field":"c","type":"nominal","scale":{"domain":["WT","MPS"],"range":["triangle-up","circle"]},"legend":null},"fill":{"field":"t","type":"nominal","scale":{"domain":["D5","6wk"],"range":["black","white"]},"legend":null}}},
     {"data":{"name":"ann"},"transform":[{"filter":"datum.organ == 'Lung' && datum.label == '#'"}],"mark":{"type":"text","fontSize":11,"fontWeight":"bold","color":"#333333","baseline":"middle"},"encoding":{"text":{"field":"label"}}},
     {"data":{"name":"grp"},"transform":[{"filter":"datum.organ == 'Lung'"}],"mark":{"type":"rule","color":"#333333","strokeWidth":1.2,"yOffset":18},"encoding":{"x":{"field":"gx"},"x2":{"field":"gx2"}}},
     {"data":{"name":"grp"},"transform":[{"filter":"datum.organ == 'Lung'"}],"mark":{"type":"text","fontSize":13,"fontWeight":"bold","dy":28,"baseline":"middle","color":"black"},"encoding":{"x":{"field":"gc"},"text":{"field":"name"}}}
    ]}
  ], "spacing": 10}
 ], "spacing": 22}
]
}
